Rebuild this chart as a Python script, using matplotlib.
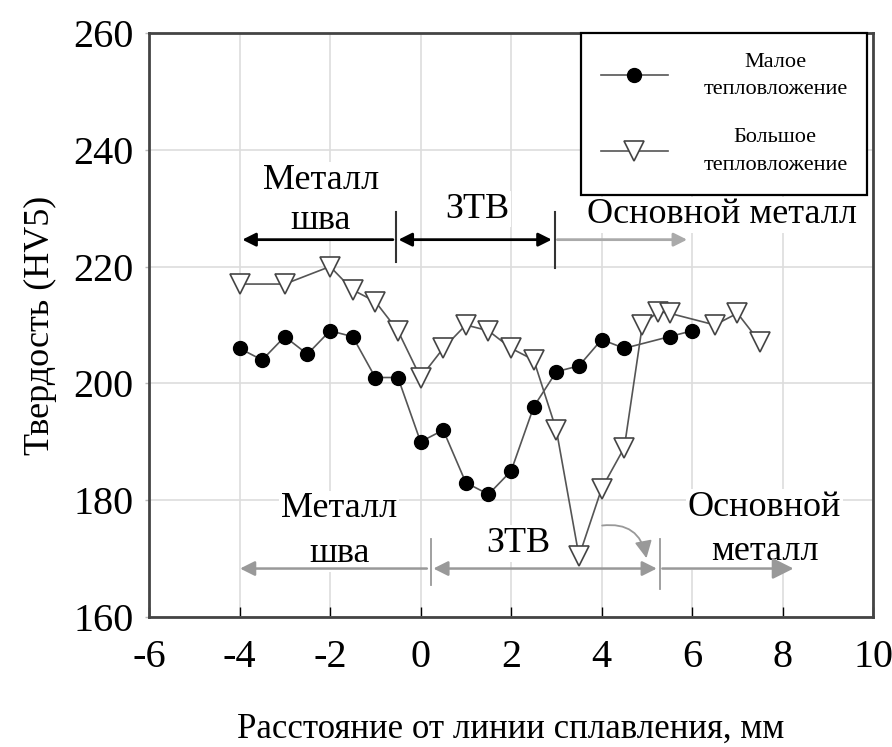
import matplotlib
matplotlib.use("Agg")
import matplotlib.pyplot as plt
from matplotlib.patches import FancyArrowPatch

plt.rcParams.update({
    "font.family": ["Liberation Serif", "DejaVu Serif"],
    "font.size": 22,
    "axes.unicode_minus": False,
})

# hardness profile across the weld, mm from the fusion line
low_x = [-4, -3.5, -3, -2.5, -2, -1.5, -1, -0.5, 0, 0.5, 1, 1.5, 2, 2.5, 3, 3.5, 4, 4.5, 5.5, 6]
low_hv = [206, 204, 208, 205, 209, 208, 201, 201, 190, 192, 183, 181, 185, 196, 202, 203, 207.5, 206, 208, 209]

high_x = [-4, -3, -2, -1.5, -1, -0.5, 0, 0.5, 1, 1.5, 2, 2.5, 3, 3.5, 4, 4.5, 4.9, 5.25, 5.5, 6.5, 7, 7.5]
high_hv = [217, 217, 220, 216, 214, 209, 201, 206, 210, 209, 206, 204, 192, 170.4, 182, 189, 210, 212.3, 212, 210, 212, 207]

labels = ["Малое\nтепловложение", "Большое\nтепловложение"]
x_ticks = [-6, -4, -2, 0, 2, 4, 6, 8, 10]
y_ticks = [160, 180, 200, 220, 240, 260]

fig = plt.figure(figsize=(8.92, 7.47), dpi=100)
ax = fig.add_axes([0.167, 0.174, 0.812, 0.782])

ax.plot(low_x, low_hv, color="#555555", lw=1.2, marker="o", ms=10,
        mfc="black", mec="black", label=labels[0], zorder=4)
ax.plot(high_x, high_hv, color="#555555", lw=1.2, marker="v", ms=14,
        mfc="white", mec="#444444", mew=1.2, label=labels[1], zorder=3)

ax.set_xlim(-6, 10)
ax.set_ylim(160, 260)
ax.set_xticks(x_ticks)
ax.set_yticks(y_ticks)
ax.grid(True, color="#dddddd", lw=1.2, zorder=0)
ax.tick_params(axis="x", direction="in", length=7, width=1, pad=16, labelsize=29)
ax.tick_params(axis="y", direction="out", length=3, width=1, color="#bbbbbb", pad=8, labelsize=29)
for s in ax.spines.values():
    s.set_color("#444444")
    s.set_linewidth(2)

ax.set_xlabel("Расстояние от линии сплавления, мм", fontsize=25, labelpad=26)
ax.set_ylabel("Твердость (HV5)", fontsize=26, labelpad=12)

leg = ax.legend(loc="upper right", bbox_to_anchor=(0.992, 1.0), borderaxespad=0,
                fancybox=False, framealpha=1, edgecolor="black", fontsize=16,
                handlelength=3.0, labelspacing=1.3, borderpad=0.9, handletextpad=1.6)
leg.get_frame().set_linewidth(1.6)
for t in leg.get_texts():
    t.set_multialignment("center")
    t.set_linespacing(1.6)

bg = dict(boxstyle="square,pad=0.05", fc="white", ec="none")

# zone annotations, upper set
ax.text(-2.2, 225, "Металл\nшва", ha="center", va="bottom", fontsize=26,
        linespacing=1.3, bbox=bg, zorder=5)
ax.text(1.25, 227, "ЗТВ", ha="center", va="bottom", fontsize=26, bbox=bg, zorder=5)
ax.text(6.65, 226, "Основной металл", ha="center", va="bottom", fontsize=26, bbox=bg, zorder=5)

top_y = 224.6
ax.add_patch(FancyArrowPatch((-0.55, top_y), (-4.0, top_y), arrowstyle="-|>",
                             mutation_scale=20, lw=2, color="black", zorder=6))
ax.add_patch(FancyArrowPatch((-0.55, top_y), (2.96, top_y), arrowstyle="<|-|>",
                             mutation_scale=20, lw=2, color="black", zorder=6))
ax.add_patch(FancyArrowPatch((2.96, top_y), (5.95, top_y), arrowstyle="-|>",
                             mutation_scale=20, lw=2, color="#aaaaaa", zorder=6))
ax.plot([-0.55, -0.55], [220.7, 229.4], color="#333333", lw=1.5, zorder=6)
ax.plot([2.96, 2.96], [219.8, 229.4], color="#333333", lw=1.5, zorder=6)

# zone annotations, lower set
ax.text(-1.8, 168.1, "Металл\nшва", ha="center", va="bottom", fontsize=26,
        linespacing=1.45, bbox=bg, zorder=2)
ax.text(2.15, 169.8, "ЗТВ", ha="center", va="bottom", fontsize=26, bbox=bg, zorder=2)
ax.text(7.6, 168.4, "Основной\nметалл", ha="center", va="bottom", fontsize=26,
        linespacing=1.45, bbox=bg, zorder=2)

bot_y = 168.3
grey = "#999999"
ax.add_patch(FancyArrowPatch((0.2, bot_y), (-4.05, bot_y), arrowstyle="-|>",
                             mutation_scale=22, lw=1.8, color=grey, zorder=6))
ax.add_patch(FancyArrowPatch((0.22, bot_y), (5.28, bot_y), arrowstyle="<|-|>",
                             mutation_scale=22, lw=1.8, color=grey, zorder=6))
ax.add_patch(FancyArrowPatch((5.28, bot_y), (8.3, bot_y), arrowstyle="-|>",
                             mutation_scale=32, lw=1.8, color=grey, zorder=6))
ax.plot([0.22, 0.22], [165.4, 173.3], color=grey, lw=1.3, zorder=6)
ax.plot([5.28, 5.28], [164.8, 173.3], color=grey, lw=1.3, zorder=6)
ax.add_patch(FancyArrowPatch((3.95, 175.6), (5.0, 169.6), arrowstyle="-|>",
                             connectionstyle="arc3,rad=-0.5", mutation_scale=26,
                             lw=1.3, color=grey, zorder=6))

fig.savefig("out.png", dpi=100)
